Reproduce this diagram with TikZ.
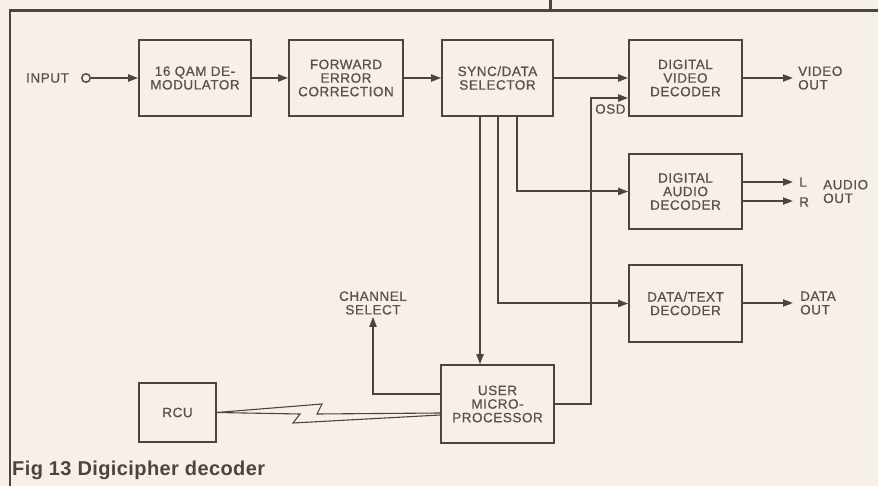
\documentclass[tikz,border=0pt]{standalone}
\usepackage{fontspec}
\setmainfont{Liberation Sans}
\newfontfamily\labfont{Liberation Sans}[FakeBold=0.7,LetterSpace=4]
\newfontfamily\capfont{Liberation Sans}[LetterSpace=2]
\usetikzlibrary{arrows.meta}
\definecolor{paper}{HTML}{F7F0E8}
\definecolor{ink}{HTML}{4A4541}
\definecolor{txt}{HTML}{57524E}
\begin{document}
\begin{tikzpicture}[x=1pt,y=-1pt,
  blk/.style={draw=ink,line width=1.6pt,align=center,text=txt,inner sep=0pt,
    font=\labfont\fontsize{13.5}{13.6}\selectfont},
  lbl/.style={text=txt,align=left,inner sep=0pt,font=\labfont\fontsize{13.5}{13.6}\selectfont},
  conn/.style={draw=ink,line width=2pt},
  arr/.style={conn,-{Triangle[length=10pt,width=7pt]}}]
\fill[paper] (0,0) rectangle (878,486);
\useasboundingbox (0,0) rectangle (878,486);
% frame
\draw[ink,line width=2.2pt] (10,486) -- (10,10.5) -- (878,10.5);
\draw[ink,line width=3pt] (550.5,0) -- (550.5,10.5);
% blocks
\node[blk,minimum width=112pt,minimum height=76pt] (qam) at (195,78) {16 QAM DE-\\MODULATOR};
\node[blk,minimum width=114pt,minimum height=76pt] (fec) at (346,78) {FORWARD\\ERROR\\CORRECTION};
\node[blk,minimum width=111pt,minimum height=76pt] (sync) at (497.5,78) {SYNC/DATA\\SELECTOR};
\node[blk,minimum width=113pt,minimum height=76pt] (video) at (685.5,78) {DIGITAL\\VIDEO\\DECODER};
\node[blk,minimum width=113pt,minimum height=75pt] (audio) at (685.5,191.5) {DIGITAL\\AUDIO\\DECODER};
\node[blk,minimum width=113pt,minimum height=77pt] (data) at (685.5,303.5) {DATA/TEXT\\DECODER};
\node[blk,minimum width=113pt,minimum height=78pt] (user) at (497.5,404) {USER\\MICRO-\\PROCESSOR};
\node[blk,minimum width=77pt,minimum height=59pt] (rcu) at (177.5,412.5) {RCU};
% labels
\node[lbl,anchor=west] (input) at (26,78) {INPUT};
\node[draw=ink,line width=1.4pt,circle,minimum size=8.5pt,inner sep=0pt] (inc) at (86,78) {};
\node[lbl,anchor=west] (vout) at (798,78) {VIDEO\\OUT};
\node[lbl,anchor=west] (lL) at (799,182) {L};
\node[lbl,anchor=west] (lR) at (799,202) {R};
\node[lbl,anchor=west] (aout) at (823,191.5) {AUDIO\\OUT};
\node[lbl,anchor=west] (dout) at (800,303) {DATA\\OUT};
\node[lbl,align=center] (chan) at (373,303) {CHANNEL\\SELECT};
\node[lbl,anchor=west] (osd) at (595,109) {OSD};
\node[anchor=base west,inner sep=0pt,text=ink,font=\capfont\fontsize{20}{20}\selectfont\bfseries] (cap) at (12,475) {Fig 13 Digicipher decoder};
% free ends
\coordinate (ve) at (793,78);
\coordinate (le) at (793,182);
\coordinate (re) at (793,201);
\coordinate (de) at (793,303);
\coordinate (osdc) at (591,98);
% connectors
\draw[arr] (inc.east) -- (qam.west);
\draw[arr] (qam.east) -- (fec.west);
\draw[arr] (fec.east) -- (sync.west);
\draw[arr] (sync.east) -- (video.west);
\draw[arr] ([xshift=19.5pt]sync.south) |- (audio.west);
\draw[arr] ([xshift=0.5pt]sync.south) |- (data.west);
\draw[arr] ([xshift=-17.5pt]sync.south) -- ([xshift=-17.5pt]user.north);
\draw[arr] (user.east) -| (osdc) -- (osdc -| video.west);
\draw[arr] ([yshift=10pt]user.west) -| ([yshift=-2pt]chan.south);
\draw[arr] (video.east) -- (ve);
\draw[arr] (audio.east |- le) -- (le);
\draw[arr] (audio.east |- re) -- (re);
\draw[arr] (data.east |- de) -- (de);
% radio link
\draw[ink,line width=1.1pt,line join=miter] (rcu.east) -- (322,404) -- (317,414) -- ([yshift=-9pt]user.west);
\draw[ink,line width=1.1pt,line join=miter] (rcu.east) -- (300,414) -- (293,423) -- ([yshift=-11pt]user.west);
\end{tikzpicture}
\end{document}
